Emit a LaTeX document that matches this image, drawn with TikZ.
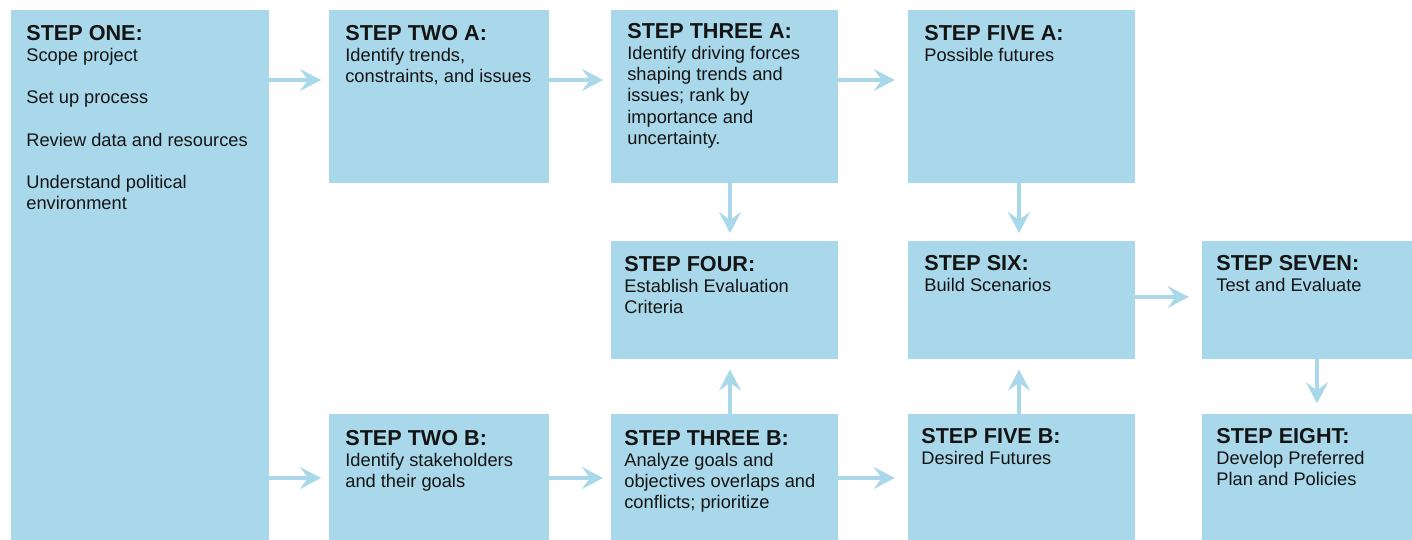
\documentclass[tikz,border=0pt]{standalone}
\usepackage{fontspec}
\setmainfont{Liberation Sans}
\usepackage{xcolor}
\usepackage{tikz}
\usetikzlibrary{arrows.meta,calc}
\definecolor{stepblue}{RGB}{169,216,234}
\definecolor{ink}{RGB}{20,20,20}
\newcommand{\hd}[1]{{\fontsize{12.3}{14}\selectfont\bfseries #1}}

\begin{document}
\begin{tikzpicture}[x=0.02cm,y=-0.02cm,
	box/.style={fill=stepblue,inner sep=0pt,outer sep=0pt,anchor=north west},
	txt/.style={anchor=north west,inner sep=0pt,align=left,text=ink,font=\fontsize{10.4}{12.05}\selectfont},
	arr/.style={draw=stepblue,line width=2.3pt,-{Stealth[length=12pt,width=12.5pt,inset=4.5pt]},shorten >=4.5pt},
	far/.style={shorten >=7.5pt}]
				\useasboundingbox (0,0) rectangle (1412,540);
				\node[box,minimum width=5.16cm,minimum height=10.6cm] (one) at (11,10) {};
				\node[box,minimum width=4.4cm,minimum height=3.46cm] (twoA) at (329,10) {};
				\node[box,minimum width=4.54cm,minimum height=3.46cm] (threeA) at (611,10) {};
				\node[box,minimum width=4.54cm,minimum height=3.46cm] (fiveA) at (908,10) {};
				\node[box,minimum width=4.54cm,minimum height=2.36cm] (four) at (611,241) {};
				\node[box,minimum width=4.54cm,minimum height=2.36cm] (six) at (908,241) {};
				\node[box,minimum width=4.2cm,minimum height=2.36cm] (seven) at (1202,241) {};
				\node[box,minimum width=4.4cm,minimum height=2.52cm] (twoB) at (329,414) {};
				\node[box,minimum width=4.54cm,minimum height=2.52cm] (threeB) at (611,414) {};
				\node[box,minimum width=4.54cm,minimum height=2.52cm] (fiveB) at (908,414) {};
				\node[box,minimum width=4.2cm,minimum height=2.52cm] (eight) at (1202,414) {};
				\node[txt] (one-t) at ([shift={(15,15)}]one.north west) {\hd{STEP ONE:}\\Scope project\\[12.05pt]Set up process\\[12.05pt]Review data and resources\\[12.05pt]Understand political\\environment};
				\node[txt] (twoA-t) at ([shift={(16,15)}]twoA.north west) {\hd{STEP TWO A:}\\Identify trends,\\constraints, and issues};
				\node[txt] (threeA-t) at ([shift={(16,13)}]threeA.north west) {\hd{STEP THREE A:}\\Identify driving forces\\shaping trends and\\issues; rank by\\importance and\\uncertainty.};
				\node[txt] (fiveA-t) at ([shift={(16,15)}]fiveA.north west) {\hd{STEP FIVE A:}\\Possible futures};
				\node[txt] (four-t) at ([shift={(13,15)}]four.north west) {\hd{STEP FOUR:}\\Establish Evaluation\\Criteria};
				\node[txt] (six-t) at ([shift={(16,14)}]six.north west) {\hd{STEP SIX:}\\Build Scenarios};
				\node[txt] (seven-t) at ([shift={(14,14)}]seven.north west) {\hd{STEP SEVEN:}\\Test and Evaluate};
				\node[txt] (twoB-t) at ([shift={(16,16)}]twoB.north west) {\hd{STEP TWO B:}\\Identify stakeholders\\and their goals};
				\node[txt] (threeB-t) at ([shift={(13,16)}]threeB.north west) {\hd{STEP THREE B:}\\Analyze goals and\\objectives overlaps and\\conflicts; prioritize};
				\node[txt] (fiveB-t) at ([shift={(13,14)}]fiveB.north west) {\hd{STEP FIVE B:}\\Desired Futures};
				\node[txt] (eight-t) at ([shift={(14,14)}]eight.north west) {\hd{STEP EIGHT:}\\Develop Preferred\\Plan and Policies};
				\coordinate (rowtop) at (0,80);
				\coordinate (rowmid) at (0,297);
				\coordinate (rowbot) at (0,478);
				\coordinate (colthree) at (730,0);
				\coordinate (colfive) at (1019,0);
				\coordinate (colseven) at (1317,0);
				\draw[arr] (one.east |- rowtop) -- (twoA.west |- rowtop);
				\draw[arr] (twoA.east |- rowtop) -- (threeA.west |- rowtop);
				\draw[arr,far] (threeA.east |- rowtop) -- (fiveA.west |- rowtop);
				\draw[arr] (one.east |- rowbot) -- (twoB.west |- rowbot);
				\draw[arr] (twoB.east |- rowbot) -- (threeB.west |- rowbot);
				\draw[arr,far] (threeB.east |- rowbot) -- (fiveB.west |- rowbot);
				\draw[arr,far] (six.east |- rowmid) -- (seven.west |- rowmid);
				\draw[arr] (colthree |- threeA.south) -- (colthree |- four.north);
				\draw[arr,shorten >=6pt] (colthree |- threeB.north) -- (colthree |- four.south);
				\draw[arr] (colfive |- fiveA.south) -- (colfive |- six.north);
				\draw[arr,shorten >=6pt] (colfive |- fiveB.north) -- (colfive |- six.south);
				\draw[arr,shorten >=6pt] (colseven |- seven.south) -- (colseven |- eight.north);
			\end{tikzpicture}
\end{document}
